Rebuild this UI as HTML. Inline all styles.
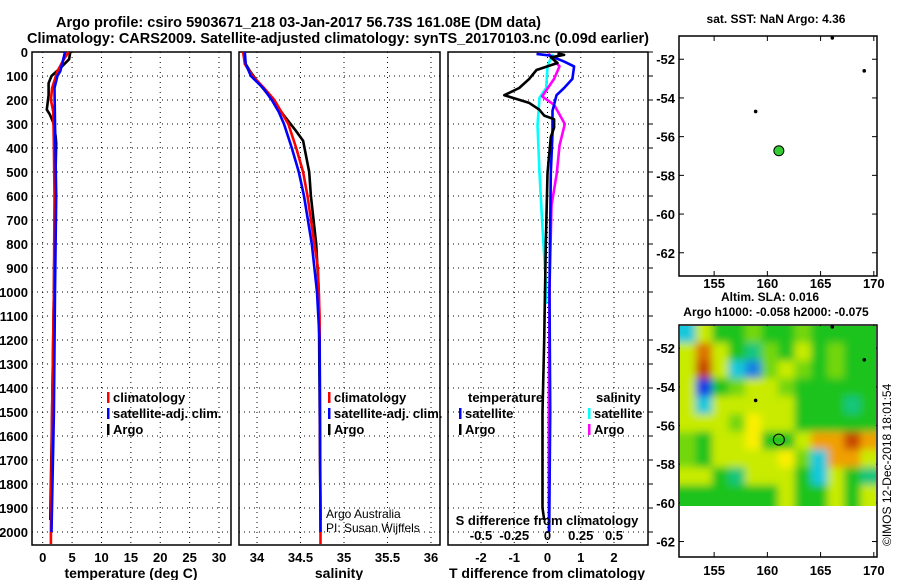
<!DOCTYPE html>
<html><head><meta charset="utf-8"><style>
html,body{margin:0;padding:0;background:#fff;}
svg{display:block;font-family:"Liberation Sans",sans-serif;font-weight:bold;}
</style></head><body>
<svg id="fig" width="900" height="580" viewBox="0 0 900 580" xmlns="http://www.w3.org/2000/svg">
<defs>
<filter id="bl" x="-5%" y="-5%" width="110%" height="110%"><feGaussianBlur stdDeviation="4"/></filter>
<clipPath id="hc"><rect x="680" y="326" width="196" height="180"/></clipPath>
</defs>
<text x="56" y="27" font-size="15" textLength="485" lengthAdjust="spacingAndGlyphs">Argo profile: csiro 5903671_218 03-Jan-2017 56.73S 161.08E (DM data)</text>
<text x="27" y="43" font-size="15" textLength="622" lengthAdjust="spacingAndGlyphs">Climatology: CARS2009. Satellite-adjusted climatology: synTS_20170103.nc (0.09d earlier)</text>
<g id="g"></g>
</svg>
<script>
// ---------- data ----------
const depthTicks=[0,100,200,300,400,500,600,700,800,900,1000,1100,1200,1300,1400,1500,1600,1700,1800,1900,2000];
const tempTicks=[0,5,10,15,20,25,30];
const salTicks=[34,34.5,35,35.5,36];
const tdiffTicks=[-2,-1,0,1,2];
const sdiffTicks=[-0.5,-0.25,0,0.25,0.5];
const tempClimDepth=[0,30,80,150,200,250,400,600,1000,1500,2000,2050];
const tempClim=[4.4,3.6,2.5,1.6,1.4,1.8,1.9,2.0,1.9,1.6,1.4,1.4];
const tempSatDepth=[0,30,80,100,150,300,600,1000,1500,2000];
const tempSat=[3.8,3.5,3.0,2.5,2.0,2.1,2.3,2.1,1.9,1.5];
const tempArgoDepth=[0,30,60,100,130,180,240,260,300,350,380,600,1000,1500,1800,1950];
const tempArgo=[4.7,4.5,3.3,1.5,1.0,1.0,0.7,1.2,1.9,2.2,2.3,2.1,1.9,1.6,1.4,1.3];
const salClimDepth=[0,50,100,150,200,250,300,400,500,600,800,900,1100,2000,2050];
const salClim=[33.84,33.86,33.95,34.08,34.2,34.28,34.36,34.45,34.53,34.58,34.66,34.7,34.72,34.73,34.73];
const salSatDepth=[0,50,100,150,200,250,300,400,500,600,800,1000,1200,2000];
const salSat=[33.86,33.87,33.93,34.07,34.17,34.25,34.31,34.4,34.48,34.54,34.63,34.69,34.72,34.73];
const salArgoDepth=[0,50,80,130,200,260,330,370,500,600,800,1000,1950];
const salArgo=[33.85,33.87,33.92,34.02,34.18,34.3,34.45,34.53,34.6,34.62,34.68,34.71,34.73];
const tdArgoDepth=[5,12,22,46,75,112,150,180,212,240,265,280,315,355,505,800,1200,1500,1900,1950];
const tdArgo=[0.3,0.5,0.1,0.3,-0.33,-0.55,-0.85,-1.3,-0.55,-0.25,-0.1,0.2,0.2,0.1,0,-0.05,-0.1,-0.15,-0.15,-0.1];
const tdSatDepth=[8,14,40,60,112,150,180,245,340,505,990,1500,2000];
const tdSat=[-0.33,0.05,0.5,0.8,0.75,0.5,0.27,0.15,0.15,0.1,0.06,0.08,0.05];
const sdArgoDepth=[5,12,60,112,185,220,300,390,505,640,990,1500,2000];
const sdArgo=[0.01,0.015,0.09,0.05,-0.04,0.05,0.13,0.09,0.07,0.03,0.015,0.01,0.01];
const sdSatDepth=[8,60,150,190,305,505,710,990,1050];
const sdSat=[0.04,0,-0.01,-0.06,-0.075,-0.06,-0.04,-0.01,-0.01];
const latTicks=[-52,-54,-56,-58,-60,-62];
const lonTicks=[155,160,165,170];
const argoLon=161.08, argoLat=-56.73;
const otherLon=[166.1,169.1,158.9];
const otherLat=[-50.9,-52.6,-54.7];
// SLA heatmap cells (rows north->south, cols west->east), level units
const slaLon=[151.7,153.25,154.8,156.35,157.9,159.45,161.0,162.55,164.1,165.65,167.2,168.75,170.3];
const slaLat=[-50.8,-51.72,-52.64,-53.56,-54.48,-55.4,-56.32,-57.24,-58.16,-59.08,-60.0];
const slaRows=[
[-1,1,0,0,0.5,0,0,0.5,0,0,0,0],
[1,2.5,1,0,-0.5,0.5,0,1,0,0.5,0,0],
[1,3,1,-1,-1.5,0.5,1,0.5,0,0.5,0,0],
[1,-2,0,0.5,1,1,0.5,0,0,0,0,0],
[1,-1,1,1,1,1,1,0,0,0,-0.5,0],
[1,1,1,0.5,1.5,1,1,0,0,0,0,0],
[0.5,0,1,1,1.5,0,0,1,2,2,3,2],
[0.5,0,1,1,1,1,1.5,0.5,-1,2,2,1],
[1,1,0,-0.5,1,1,1,0,-1,1,0,-0.5],
[0,0,0,0,0,0,1,0,0,1,0,1]];

// ---------- helpers ----------
const NS="http://www.w3.org/2000/svg";
const G=document.getElementById('g');
function el(t,a,p){const e=document.createElementNS(NS,t);for(const k in a)e.setAttribute(k,a[k]);(p||G).appendChild(e);return e;}
function lin(d0,d1,r0,r1){return v=>r0+(v-d0)*(r1-r0)/(d1-d0);}
const yD=lin(0,2000,52,532);
const PT=52,PB=545;
const xT=lin(0,30,42.7,219), xS=lin(34,36,257,431), xTD=lin(-2,2,481,614), xSD=lin(-0.5,0.5,481,614);

function panel(name,x0,x1,xs,ticks,fmt){
  const g=el('g',{});
  
  
  ticks.forEach(v=>{const x=xs(v);
    const l=el('line',{x1:x,x2:x,y1:PT,y2:PB,stroke:'#000','stroke-width':1,'stroke-dasharray':'1,4'},g);
    
    const t=el('text',{x:x,y:562,'font-size':13,'text-anchor':'middle'},g);t.textContent=fmt(v);
    });
  depthTicks.forEach(d=>{const y=yD(d);
    const l=el('line',{x1:x0,x2:x1,y1:y,y2:y,stroke:'#000','stroke-width':1,'stroke-dasharray':'1,4'},g);
    });
  const r=el('rect',{x:x0,y:PT,width:x1-x0,height:PB-PT,fill:'none',stroke:'#000','stroke-width':1.5},g);
  
  return g;
}
function line(g,name,ds,vs,xs,color){
  let d='';ds.forEach((dd,i)=>{d+=(i?'L':'M')+xs(vs[i]).toFixed(1)+','+yD(dd).toFixed(1);});
  const p=el('path',{d:d,fill:'none',stroke:color,'stroke-width':2.6,'stroke-linejoin':'round'},g);
  
}
function txt(g,name,x,y,s,size,anchor,extra){const t=el('text',Object.assign({x:x,y:y,'font-size':size||13,'text-anchor':anchor||'start'},extra||{}),g);t.textContent=s;return t;}
function legend(g,x,y,color,label){
  const m=el('rect',{x:x,y:y-10,width:2.5,height:11,fill:color},g);
  
  txt(g,'legend-entry',x+6,y,label,13);
}

depthTicks.forEach(d=>{txt(G,'y-tick-label',28,yD(d)+5,String(d),13,'end');});

const p1=panel('temperature-panel',32,231,xT,tempTicks,String);
line(p1,'temp-argo-line',tempArgoDepth,tempArgo,xT,'#000');
line(p1,'temp-clim-line',tempClimDepth,tempClim,xT,'#f00');
line(p1,'temp-sat-line',tempSatDepth,tempSat,xT,'#00f');
legend(p1,107,402,'#f00','climatology');
legend(p1,107,418,'#00f','satellite-adj. clim.');
legend(p1,107,434,'#000','Argo');
txt(p1,'x-axis-title',131,578,'temperature (deg C)',14,'middle');

const p2=panel('salinity-panel',239,440,xS,salTicks,String);
line(p2,'sal-argo-line',salArgoDepth,salArgo,xS,'#000');
line(p2,'sal-clim-line',salClimDepth,salClim,xS,'#f00');
line(p2,'sal-sat-line',salSatDepth,salSat,xS,'#00f');
legend(p2,328,402,'#f00','climatology');
legend(p2,328,418,'#00f','satellite-adj. clim.');
legend(p2,328,434,'#000','Argo');
txt(p2,'credit-line-1',326,518,'Argo Australia',12,'start',{'font-weight':'normal'});
txt(p2,'credit-line-2',326,532,'PI: Susan Wijffels',12,'start',{'font-weight':'normal'});
txt(p2,'x-axis-title',339,578,'salinity',14,'middle');

const p3=panel('difference-panel',448,648,xTD,tdiffTicks,String);
depthTicks.forEach(d=>{const l=el('line',{x1:648,x2:653,y1:yD(d),y2:yD(d),stroke:'#000'},p3);});
line(p3,'sdiff-sat-line',sdSatDepth,sdSat,xSD,'#0ff');
line(p3,'sdiff-argo-line',sdArgoDepth,sdArgo,xSD,'#f0f');
line(p3,'tdiff-sat-line',tdSatDepth,tdSat,xTD,'#00f');
line(p3,'tdiff-argo-line',tdArgoDepth,tdArgo,xTD,'#000');
txt(p3,'legend-title-temperature',468,402,'temperature',13);
legend(p3,459,418,'#00f','satellite');
legend(p3,459,434,'#000','Argo');
txt(p3,'legend-title-salinity',596,402,'salinity',13);
legend(p3,588,418,'#0ff','satellite');
legend(p3,588,434,'#f0f','Argo');
txt(p3,'s-diff-axis-title',547,525,'S difference from climatology',13,'middle');
sdiffTicks.forEach(v=>txt(p3,'s-diff-tick-label',xSD(v),540,String(v),13,'middle'));
txt(p3,'x-axis-title',547,578,'T difference from climatology',14,'middle');

const xL=lin(151.7,170.3,679,877);
function map(name,top,h,latBottom,labelY,title1){
  const g=el('g',{});
  
  const yL=lin(-50.8,latBottom,top,top+h);
  const r=el('rect',{x:679,y:top,width:198,height:h,fill:'#fff',stroke:'#000','stroke-width':1.5},g);
  
  latTicks.forEach(v=>{const y=yL(v);
    el('line',{x1:679,x2:684,y1:y,y2:y,stroke:'#000'},g);el('line',{x1:872,x2:877,y1:y,y2:y,stroke:'#000'},g);
    txt(g,'lat-tick-label',675,y+5,String(v),13,'end');});
  lonTicks.forEach(v=>{const x=xL(v);
    el('line',{x1:x,x2:x,y1:top,y2:top+5,stroke:'#000'},g);el('line',{x1:x,x2:x,y1:top+h-5,y2:top+h,stroke:'#000'},g);
    txt(g,'lon-tick-label',x,labelY,String(v),13,'middle');});
  if(title1)txt(g,'map-title',776,top-13,title1,12,'middle');
  return {g,yL};
}
const m1=map('sst-map',36,240,-63.2,288,'sat. SST: NaN Argo: 4.36');
const m2=map('sla-map',325,232,-62.8,575,null);
txt(m2.g,'sla-title',770,301,'Altim. SLA: 0.016',12,'middle');
txt(m2.g,'sla-title-2',776,316,'Argo h1000: -0.058 h2000: -0.075',12,'middle');
function slaColor(v){
  const stops=[[-2,[20,60,230]],[-1,[20,200,220]],[0,[30,195,30]],[1,[200,235,0]],[1.5,[250,240,0]],[2,[240,160,0]],[3,[200,70,0]]];
  if(v<=stops[0][0])return 'rgb('+stops[0][1]+')';
  for(let i=1;i<stops.length;i++){if(v<=stops[i][0]){const t=(v-stops[i-1][0])/(stops[i][0]-stops[i-1][0]);const a=stops[i-1][1],b=stops[i][1];return 'rgb('+a.map((c,k)=>Math.round(c+(b[k]-c)*t)).join(',')+')';}}
  return 'rgb('+stops[stops.length-1][1]+')';
}
const hg=el('g',{'clip-path':'url(#hc)'},m2.g);

const hb=el('g',{filter:'url(#bl)'},hg);
slaRows.forEach((row,i)=>row.forEach((v,j)=>{
  const x0=xL(slaLon[j]),x1=xL(slaLon[j+1]),y0=m2.yL(slaLat[i]),y1=m2.yL(slaLat[i+1]);
  const ex=(j==0?-12:0),ex2=(j==row.length-1?12:0),ey=(i==0?-12:0),ey2=(i==slaRows.length-1?12:0);
  const c=el('rect',{x:x0+ex,y:y0+ey,width:x1-x0-ex+ex2+0.5,height:y1-y0-ey+ey2+0.5,fill:slaColor(v)},hb);
  
}));
[m1,m2].forEach((m,k)=>{
  otherLon.forEach((lo,i)=>{const d=el('circle',{cx:xL(lo),cy:m.yL(otherLat[i]),r:1.8,fill:'#000'},m.g);});
  const c=el('circle',{cx:xL(argoLon),cy:m.yL(argoLat),r:k?5.5:5,fill:k?'none':'#3c3',stroke:'#000','stroke-width':1},m.g);
  
});
txt(G,'imos-timestamp',0,0,'©IMOS 12-Dec-2018 18:01:54',12,'start',{transform:'translate(891,546) rotate(-90)','font-weight':'normal'});
</script>
</body></html>
